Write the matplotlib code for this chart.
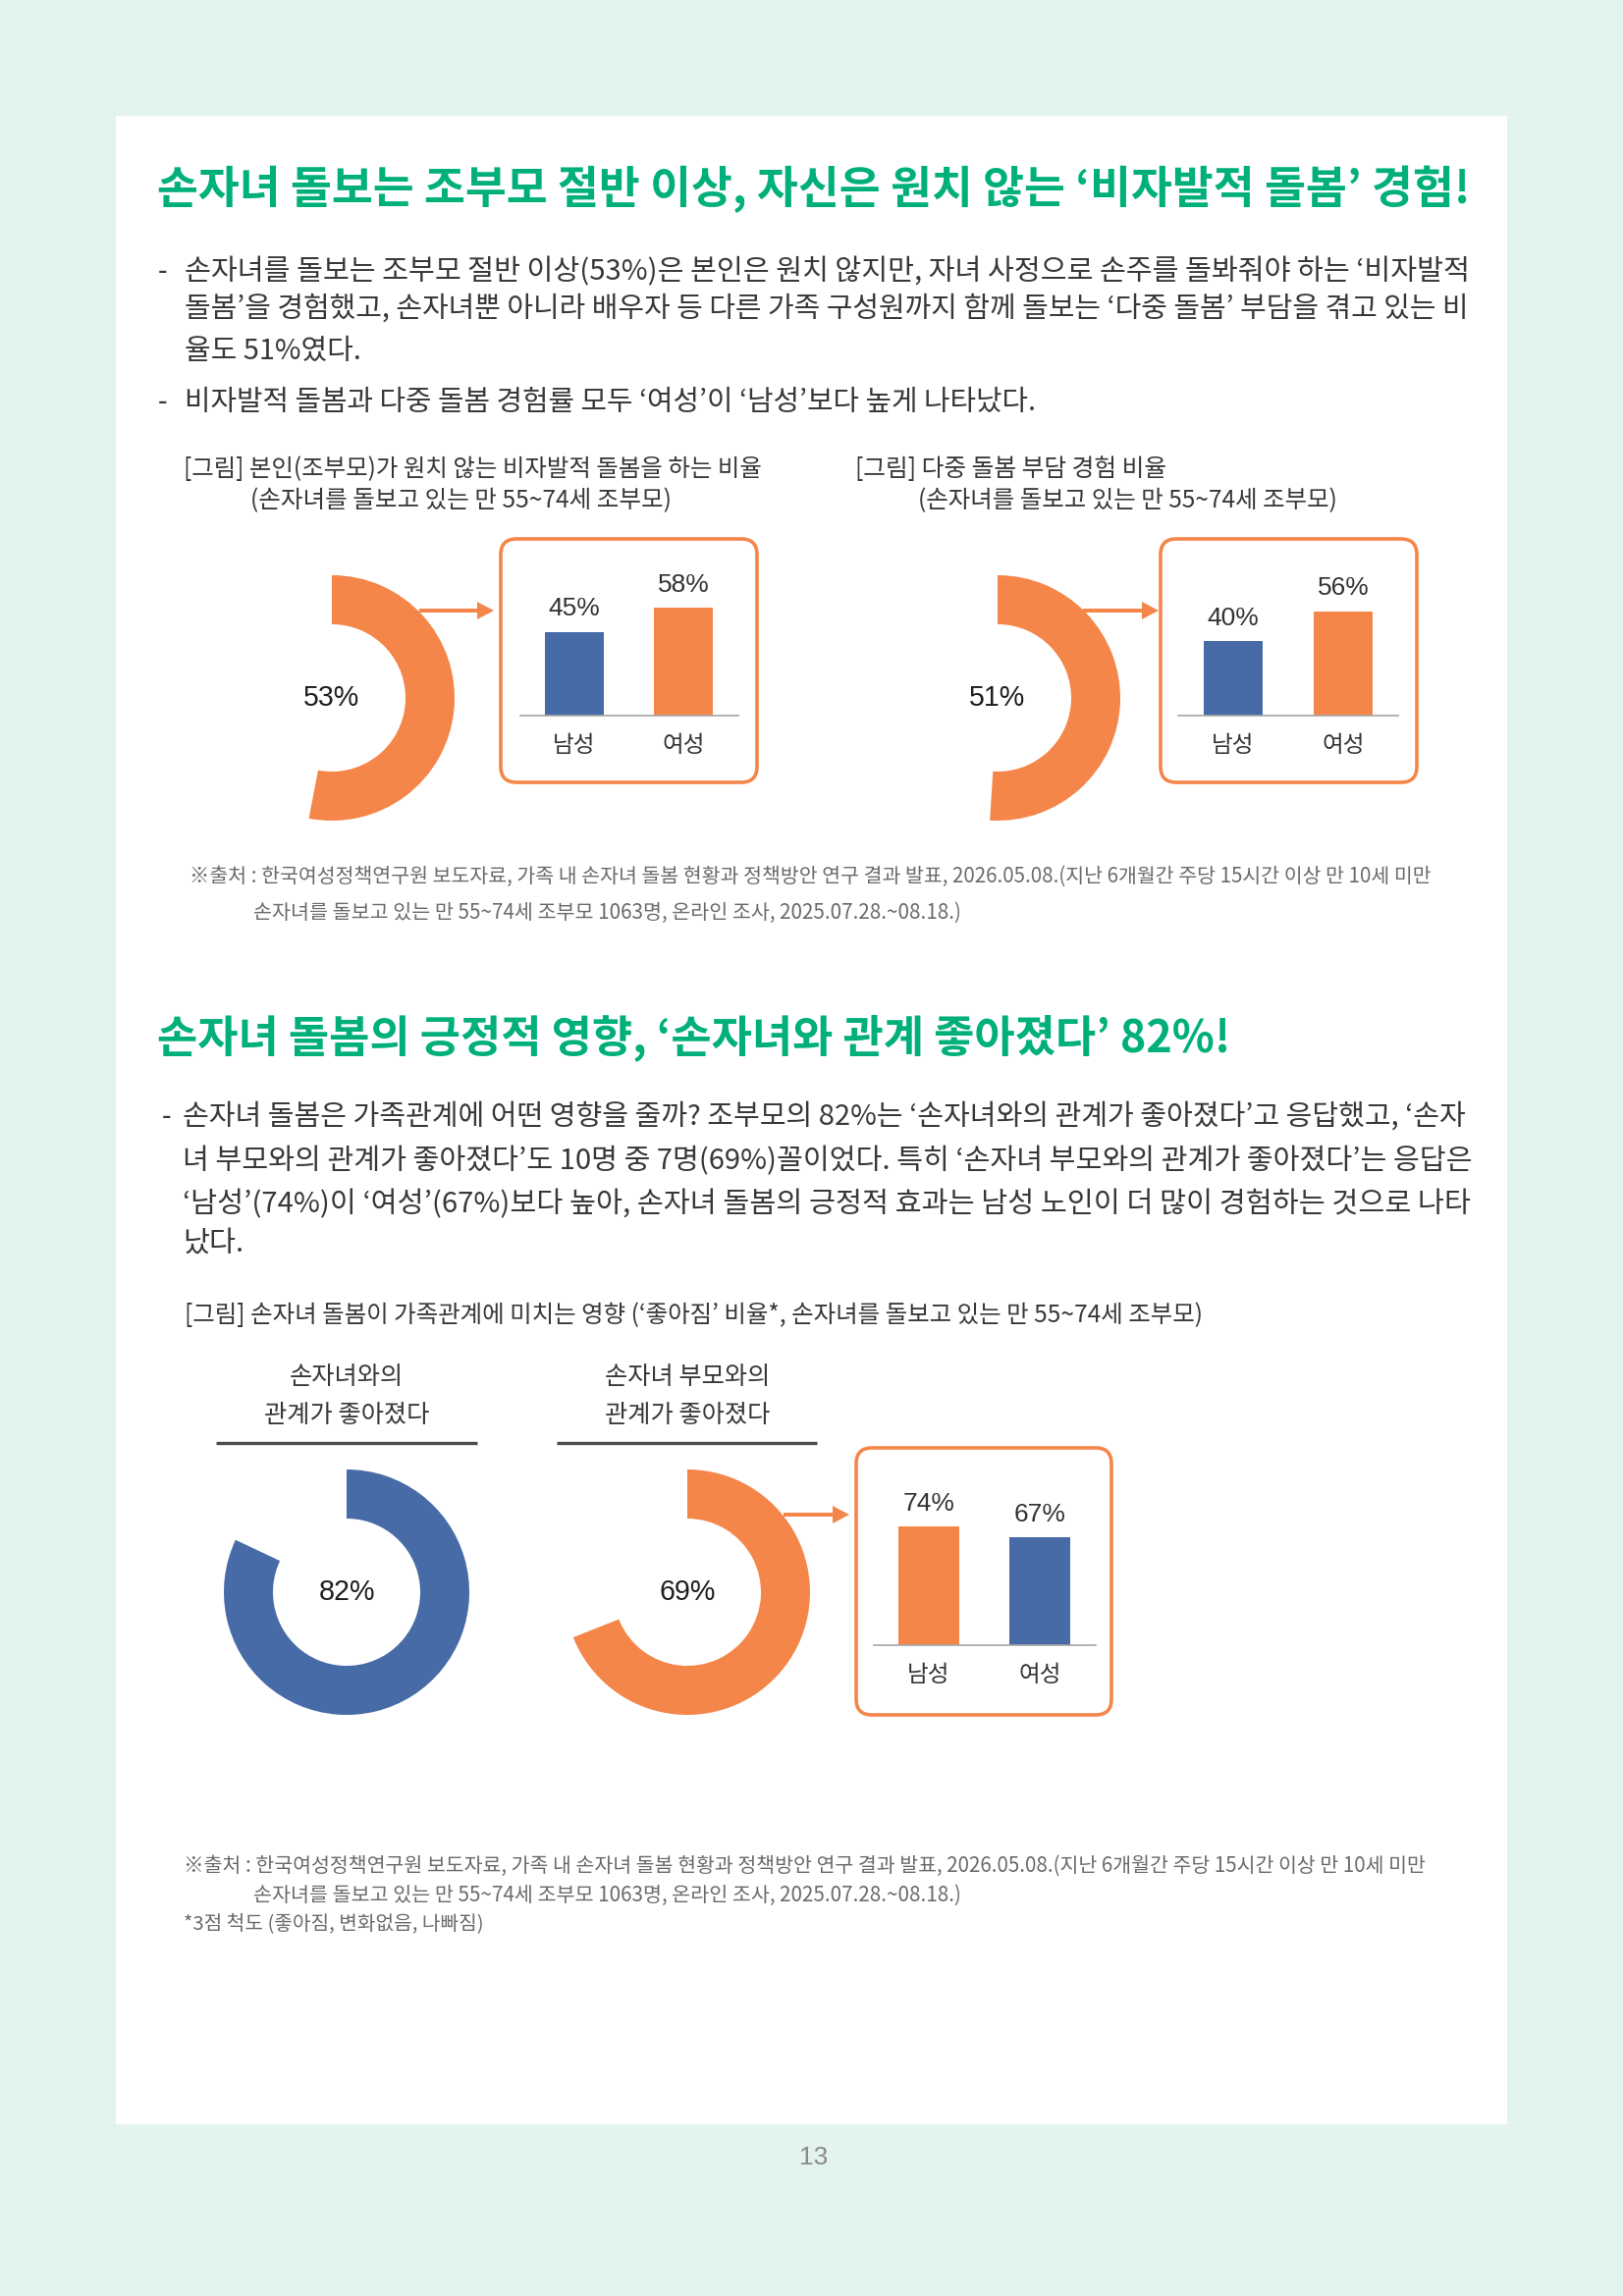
import matplotlib
matplotlib.use("Agg")
import matplotlib.pyplot as plt
from matplotlib.patches import Rectangle, FancyBboxPatch

plt.rcParams['font.family'] = ['Noto Sans CJK KR', 'DejaVu Sans']
NUM_FONT = ['Liberation Sans', 'Noto Sans CJK KR']

# data
cats = ['남성', '여성']
unwilling_total = 53
unwilling_by_sex = [45, 58]
multi_total = 51
multi_by_sex = [40, 56]
child_rel_total = 82
parent_rel_total = 69
parent_rel_by_sex = [74, 67]

title1 = '손자녀 돌보는 조부모 절반 이상, 자신은 원치 않는 ‘비자발적 돌봄’ 경험!'
body1 = ['손자녀를 돌보는 조부모 절반 이상(53%)은 본인은 원치 않지만, 자녀 사정으로 손주를 돌봐줘야 하는 ‘비자발적',
         '돌봄’을 경험했고, 손자녀뿐 아니라 배우자 등 다른 가족 구성원까지 함께 돌보는 ‘다중 돌봄’ 부담을 겪고 있는 비',
         '율도 51%였다.']
body1b = '비자발적 돌봄과 다중 돌봄 경험률 모두 ‘여성’이 ‘남성’보다 높게 나타났다.'
cap1 = ['[그림] 본인(조부모)가 원치 않는 비자발적 돌봄을 하는 비율', '(손자녀를 돌보고 있는 만 55~74세 조부모)']
cap2 = ['[그림] 다중 돌봄 부담 경험 비율', '(손자녀를 돌보고 있는 만 55~74세 조부모)']
source = ['※출처 : 한국여성정책연구원 보도자료, 가족 내 손자녀 돌봄 현황과 정책방안 연구 결과 발표, 2026.05.08.(지난 6개월간 주당 15시간 이상 만 10세 미만',
          '손자녀를 돌보고 있는 만 55~74세 조부모 1063명, 온라인 조사, 2025.07.28.~08.18.)']
title2 = '손자녀 돌봄의 긍정적 영향, ‘손자녀와 관계 좋아졌다’ 82%!'
body2 = ['손자녀 돌봄은 가족관계에 어떤 영향을 줄까? 조부모의 82%는 ‘손자녀와의 관계가 좋아졌다’고 응답했고, ‘손자',
         '녀 부모와의 관계가 좋아졌다’도 10명 중 7명(69%)꼴이었다. 특히 ‘손자녀 부모와의 관계가 좋아졌다’는 응답은',
         '‘남성’(74%)이 ‘여성’(67%)보다 높아, 손자녀 돌봄의 긍정적 효과는 남성 노인이 더 많이 경험하는 것으로 나타',
         '났다.']
cap3 = '[그림] 손자녀 돌봄이 가족관계에 미치는 영향 (‘좋아짐’ 비율*, 손자녀를 돌보고 있는 만 55~74세 조부모)'
head_a = ['손자녀와의', '관계가 좋아졌다']
head_b = ['손자녀 부모와의', '관계가 좋아졌다']
scale_note = '*3점 척도 (좋아짐, 변화없음, 나빠짐)'

GREEN = '#00af7a'
ORANGE = '#f5864a'
BLUE = '#466ba6'
TXT = '#383838'
GRAY = '#6a6a6a'

W, H = 1653, 2339
fig = plt.figure(figsize=(W / 200, H / 200), dpi=200)
fig.patch.set_facecolor('#e3f3ef')
ax0 = fig.add_axes([0, 0, 1, 1])
ax0.set_xlim(0, W)
ax0.set_ylim(H, 0)
ax0.axis('off')
ax0.add_patch(Rectangle((118, 118), 1535 - 118, 2164 - 118, color='white', lw=0))
renderer = fig.canvas.get_renderer()


def put(x, y, s, size=10, x1=None, ha='left', **kw):
    kw.setdefault('color', TXT)
    t = ax0.text(x, y, s, fontsize=size, ha=ha, va='center', **kw)
    if x1 is not None:
        for _ in range(3):
            w = t.get_window_extent(renderer).width
            t.set_fontsize(t.get_fontsize() * (x1 - x) / w)
    return t


def px_axes(x0, y0, x1, y1):
    return fig.add_axes([x0 / W, 1 - y1 / H, (x1 - x0) / W, (y1 - y0) / H])


def donut(cx, cy, value, color, r=125):
    ax = px_axes(cx - r, cy - r, cx + r, cy + r)
    ax.pie([value, 100 - value], colors=[color, 'none'], startangle=90, counterclock=False,
           radius=1, wedgeprops=dict(width=0.4, linewidth=0))
    ax.set_xlim(-1, 1)
    ax.set_ylim(-1, 1)
    ax.axis('off')
    ax.text(0, 0, f'{value}%', ha='center', va='center', fontsize=10.3, family=NUM_FONT, color='#1e1e1e')


def bars(c0, c1, ybase, scale, values, colors, ymax):
    gap = c1 - c0
    h = ymax * scale
    ax = px_axes(c0 - gap / 2, ybase - h, c1 + gap / 2, ybase)
    ax.patch.set_alpha(0)
    b = ax.bar(cats, values, width=0.54, color=colors)
    ax.set_xlim(-0.5, 1.5)
    ax.set_ylim(0, ymax)
    ax.bar_label(b, labels=[f'{v}%' for v in values], padding=4, fontsize=9.5,
                 family=NUM_FONT, color='#333333')
    for s in ['top', 'left', 'right']:
        ax.spines[s].set_visible(False)
    ax.spines['bottom'].set_color('#a6a6a6')
    ax.spines['bottom'].set_linewidth(0.6)
    ax.set_yticks([])
    ax.tick_params(axis='x', length=0, pad=7, labelsize=8.5, labelcolor='#333333')


def box(x0, y0, x1, y1):
    ax0.add_patch(FancyBboxPatch((x0, y0), x1 - x0, y1 - y0, boxstyle='round,pad=0,rounding_size=16',
                                 fc='none', ec=ORANGE, lw=1.3))


def arrow(x0, x1, y):
    ax0.arrow(x0, y, x1 - x0, 0, width=4, head_width=18, head_length=17,
              length_includes_head=True, fc=ORANGE, ec='none')


# section 1
put(160, 193, title1, 15, x1=1497, color=GREEN, fontweight='bold')
put(161, 277, '-', 10)
t = None
for y, line in zip([277, 315], body1[:2]):
    t = put(188, y, line, 10, x1=1497)
put(188, 358, body1[2], t.get_fontsize())
put(161, 410, '-', 10)
put(188, 410, body1b, 10, x1=1053)

put(187, 478, cap1[0], 8, x1=774)
put(255, 510, cap1[1], 8, x1=684)
put(871, 478, cap2[0], 8, x1=1188)
put(935, 510, cap2[1], 8, x1=1362)

donut(338, 711, unwilling_total, ORANGE)
arrow(427, 503, 622)
box(510, 549, 771, 797)
bars(585, 696, 729, 1.9, unwilling_by_sex, [BLUE, ORANGE], 60)

donut(1016, 711, multi_total, ORANGE)
arrow(1103, 1180, 622)
box(1182, 549, 1443, 797)
bars(1256, 1368, 729, 1.9, multi_by_sex, [BLUE, ORANGE], 60)

put(193, 893, source[0], 7, x1=1453, color=GRAY)
put(258, 930, source[1], 7, x1=979, color=GRAY)

# section 2
put(160, 1057, title2, 15, x1=1252, color=GREEN, fontweight='bold')
put(165, 1138, '-', 10)
for y, line in zip([1138, 1183, 1227], body2[:3]):
    t = put(186, y, line, 10, x1=1497)
put(186, 1267, body2[3], t.get_fontsize())

put(188, 1340, cap3, 8, x1=1226)

for cx, head in [(353, head_a), (700, head_b)]:
    put(cx, 1403, head[0], 9.1, ha='center')
    put(cx, 1442, head[1], 9.1, ha='center')
ax0.plot([220, 486], [1470, 1470], color='#4d4d4d', lw=1.2, solid_capstyle='butt')
ax0.plot([567, 832], [1470, 1470], color='#4d4d4d', lw=1.2, solid_capstyle='butt')

donut(353, 1622, child_rel_total, BLUE)
donut(700, 1622, parent_rel_total, ORANGE)
arrow(798, 865, 1543)
box(872, 1475, 1132, 1747)
bars(946, 1059, 1676, 1.64, parent_rel_by_sex, [ORANGE, BLUE], 80)

put(187, 1901, source[0], 7, x1=1453, color=GRAY)
put(258, 1931, source[1], 7, x1=979, color=GRAY)
put(187, 1960, scale_note, 7, x1=492, color=GRAY)

put(829, 2198, '13', 9.5, ha='center', color='#8a8a8a', family=NUM_FONT)

fig.savefig('out.png', dpi=200, facecolor=fig.get_facecolor())
